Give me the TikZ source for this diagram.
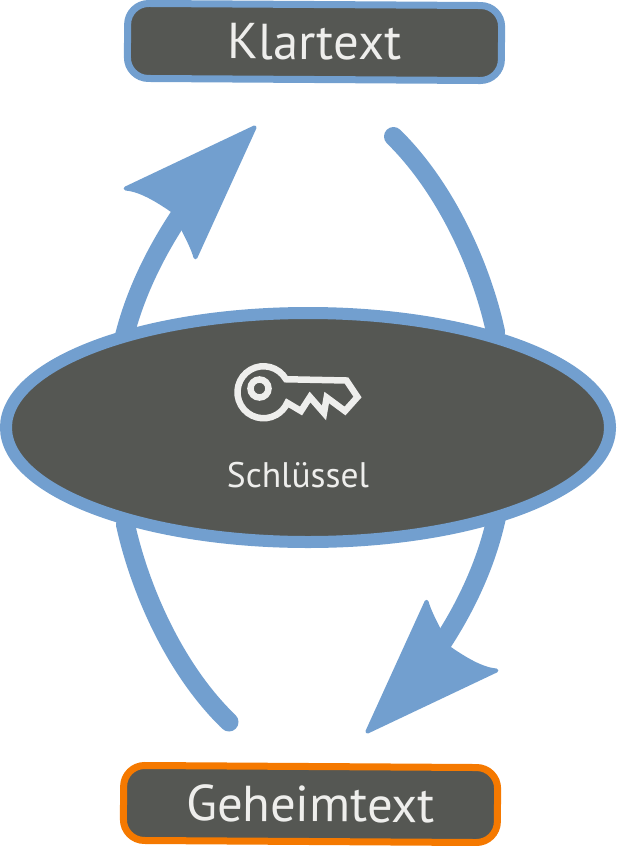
\documentclass[tikz,border=0pt]{standalone}
\usepackage{fontspec}
\setmainfont{PT Sans}
\usetikzlibrary{arrows.meta,backgrounds,shapes.geometric}
\definecolor{panel}{HTML}{555753}
\definecolor{sky}{HTML}{729FCF}
\definecolor{signal}{HTML}{F57900}
\definecolor{paper}{HTML}{EEEEEC}
\pgfdeclarearrow{
  name=Dart,
  setup code={
    \pgfarrowssettipend{0pt}
    \pgfarrowssetbackend{-138pt}
    \pgfarrowssetlineend{-30pt}
    \pgfarrowssetvisualbackend{-118pt}
    \pgfarrowshullpoint{0pt}{0pt}
    \pgfarrowshullpoint{-138pt}{51pt}
    \pgfarrowshullpoint{-138pt}{-51pt}
  },
  drawing code={
    \pgfsetlinewidth{4pt}
    \pgfsetroundjoin
    \pgfpathmoveto{\pgfpoint{-2pt}{0pt}}
    \pgfpathlineto{\pgfpoint{-136pt}{49pt}}
    \pgfpathcurveto{\pgfpoint{-127pt}{38pt}}{\pgfpoint{-122pt}{20pt}}{\pgfpoint{-118pt}{-5pt}}
    \pgfpathcurveto{\pgfpoint{-126pt}{-20pt}}{\pgfpoint{-128pt}{-35pt}}{\pgfpoint{-136pt}{-49pt}}
    \pgfpathclose
    \pgfusepathqfillstroke
  }
}

\begin{document}
\begin{tikzpicture}[
    x=1pt, y=-1pt,
    textbox/.style={rectangle, fill=panel, text=paper, line width=7pt, rounded corners=21pt, minimum width=374pt, minimum height=75pt, inner sep=0pt, font=\fontsize{50.5}{50}\selectfont},
    keyring/.style={ellipse, draw=sky, fill=panel, line width=12pt, minimum width=604pt, minimum height=229pt, inner sep=0pt},
    arc line/.style={draw=sky, line width=19pt},
    keyline/.style={draw=paper, line width=6.5pt, miter limit=6}
]
\useasboundingbox (0,0) rectangle (616,846);
\node[keyring] (schluessel) at (308,427.5) {};
\node[textbox, draw=sky, rotate=-0.35] (klartext) at (314.5,42) {Klartext};
\node[textbox, draw=signal, rotate=-0.35] (geheimtext) at (310.5,804) {Geheimtext};
\node[text=paper, font=\fontsize{35.5}{35}\selectfont, anchor=base] (label) at (298,487.6) {Schlüssel};
\coordinate (pfeiloben) at (256,126);
\coordinate (startoben) at (393.5,136.5);
\coordinate (pfeilunten) at (366,733);
\coordinate (startunten) at (229,722);
% key
\draw[keyline] (286,379.25) arc[start angle=30, end angle=336, radius=26pt] -- (301,411) -- (310,397) -- (324,413) -- (326.7,397.5) -- (345,411) -- (357.5,397) -- (346.5,380.5) -- cycle;
\draw[keyline] (259.5,388.5) circle[radius=9pt];
\begin{scope}[on background layer]
\draw[arc line, -{Dart}, shorten <=-15pt] (schluessel.152) .. controls (139,268) and (189,194) .. (pfeiloben);
\draw[arc line, line cap=round] (startoben) .. controls (447,189) and (482,269) .. (schluessel.27);
\draw[arc line, -{Dart}, shorten <=-15pt] (schluessel.-27) .. controls (483,591) and (433,665) .. (pfeilunten);
\draw[arc line, line cap=round] (startunten) .. controls (175,670) and (140,590) .. (schluessel.208);
\end{scope}
\end{tikzpicture}
\end{document}
